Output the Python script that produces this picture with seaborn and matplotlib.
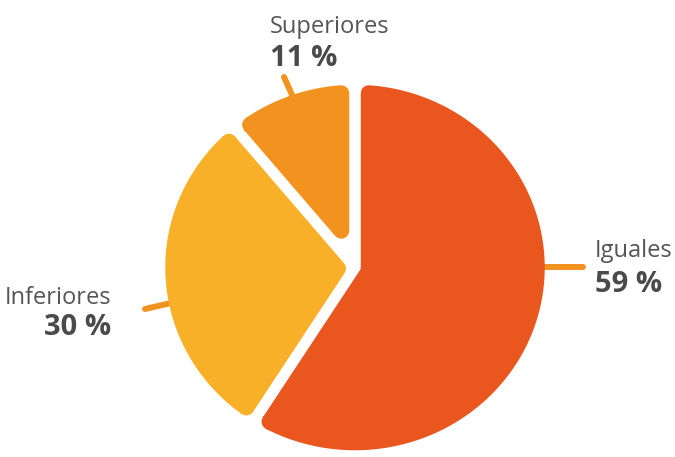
import numpy as np
import matplotlib
matplotlib.use("Agg")
import matplotlib.pyplot as plt
from matplotlib.patches import Polygon
import seaborn as sns

# ---- data ----
categories = ["Iguales", "Inferiores", "Superiores"]
values = [59, 30, 11]
pct_labels = ["59 %", "30 %", "11 %"]
colors = ["#E9561E", "#F7B027", "#F3931F"]

sns.set_theme(style="white")
plt.rcParams["font.family"] = ["Open Sans", "DejaVu Sans"]

W, H = 675, 457
fig = plt.figure(figsize=(W / 100, H / 100), dpi=100)
ax = fig.add_axes([0, 0, 1, 1])

PXX, PXY = 195.5, 188.0   # pixels per data unit (pie radius = 1)
CX, CY = 355.0, 267.5     # pie centre in pixels


def to_data(px, py):
    return (px - CX) / PXX, (CY - py) / PXY


wedges, _ = ax.pie(values, radius=1.0, startangle=90, counterclock=False,
                   colors=colors)

PX = 0.5 * (PXX + PXY)
gap_px, round_px = 11.0, 8.0
s = (gap_px / 2 + round_px) / PX
lw_pt = 2 * round_px * 0.72


def d(a):
    a = np.deg2rad(a)
    return np.array([np.cos(a), np.sin(a)])


def circle_hit(p, u, c, r):
    w = p - c
    b = np.dot(w, u)
    cc = np.dot(w, w) - r * r
    t = -b + np.sqrt(b * b - cc)
    return p + t * u


for w in wedges:
    t1, t2 = w.theta1, w.theta2
    c = np.array(w.center)
    R = w.r
    span = t2 - t1
    Ri = R - s
    if span < 180:
        half = np.deg2rad(span / 2)
        apex = c + (s / np.sin(half)) * d((t1 + t2) / 2)
        p1 = circle_hit(apex, d(t1), c, Ri)
        p2 = circle_hit(apex, d(t2), c, Ri)
        start_pts = [apex]
        end_pts = []
    else:
        q1 = c + s * d(t1 + 90)
        q2 = c + s * d(t2 - 90)
        p1 = circle_hit(q1, d(t1), c, Ri)
        p2 = circle_hit(q2, d(t2), c, Ri)
        start_pts = [q1]
        arc_c = np.linspace(t2 - 90, t1 + 90, 40)
        end_pts = [q2] + [c + s * d(a) for a in arc_c]
    a1 = np.degrees(np.arctan2(*(p1 - c)[::-1]))
    a2 = np.degrees(np.arctan2(*(p2 - c)[::-1]))
    if a2 < a1:
        a2 += 360
    arc = [c + Ri * d(a) for a in np.linspace(a1, a2, 120)]
    pts = np.array(start_pts + [p1] + arc + [p2] + end_pts)
    fc = w.get_facecolor()
    poly = Polygon(pts, closed=True, facecolor=fc, edgecolor=fc,
                   linewidth=lw_pt, joinstyle="round")
    ax.add_patch(poly)
    w.set_visible(False)

# ---- labels ----
txt_color = "#555555"
bold_color = "#4A4A4A"
leader = "#F3931F"
fs_name, fs_pct = 17, 21

label_pos = {  # (x_px, name_baseline_px, pct_baseline_px, align)
    "Iguales": (595, 257, 292, "left"),
    "Inferiores": (111, 304, 335, "right"),
    "Superiores": (270, 33, 66, "left"),
}
leaders = {
    "Iguales": ((538, 267), (583, 267)),
    "Inferiores": ((145, 309), (171, 303)),
    "Superiores": ((284, 77), (293, 97)),
}

for cat, pct in zip(categories, pct_labels):
    x, yb1, yb2, ha = label_pos[cat]
    xd, yd1 = to_data(x, yb1)
    _, yd2 = to_data(x, yb2)
    ax.text(xd, yd1, cat, ha=ha, va="baseline", fontsize=fs_name,
            color=txt_color)
    ax.text(xd, yd2, pct, ha=ha, va="baseline", fontsize=fs_pct,
            fontweight="bold", color=bold_color)
    (ax0, ay0), (ax1, ay1) = leaders[cat]
    x0, y0 = to_data(ax0, ay0)
    x1, y1 = to_data(ax1, ay1)
    ax.plot([x0, x1], [y0, y1], color=leader, lw=4.3,
            solid_capstyle="round", zorder=0.5)

ax.set_xlim(-CX / PXX, (W - CX) / PXX)
ax.set_ylim(-(H - CY) / PXY, CY / PXY)
ax.set_aspect("auto")
ax.axis("off")

fig.savefig("out.png", dpi=100, facecolor="white")
